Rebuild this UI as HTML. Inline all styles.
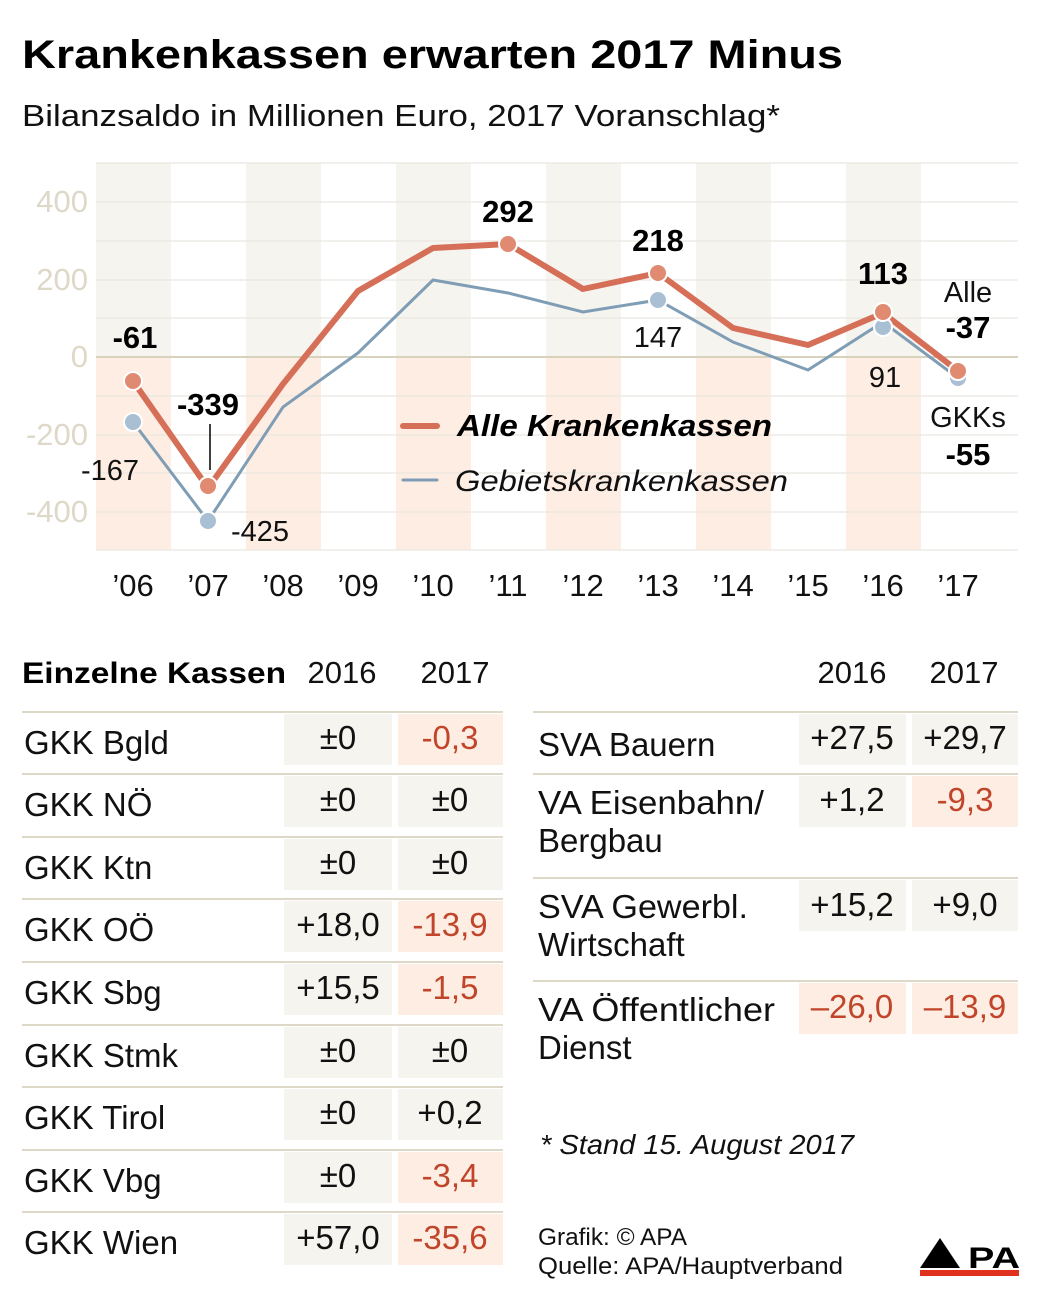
<!DOCTYPE html><html><head><meta charset="utf-8"><style>body{margin:0;background:#fff}svg{display:block}text{font-family:"Liberation Sans",sans-serif}</style></head><body>
<svg width="1041" height="1296" viewBox="0 0 1041 1296">
<text x="22" y="68" font-size="40" font-weight="bold" fill="#000" textLength="821" lengthAdjust="spacingAndGlyphs">Krankenkassen erwarten 2017 Minus</text>
<text x="22" y="126" font-size="31" fill="#111" textLength="758" lengthAdjust="spacingAndGlyphs">Bilanzsaldo in Millionen Euro, 2017 Voranschlag*</text>
<g>
<rect x="96" y="163" width="75" height="194" fill="#f6f4ef"/><rect x="96" y="357" width="75" height="193" fill="#fdede2"/>
<rect x="246" y="163" width="75" height="194" fill="#f6f4ef"/><rect x="246" y="357" width="75" height="193" fill="#fdede2"/>
<rect x="396" y="163" width="75" height="194" fill="#f6f4ef"/><rect x="396" y="357" width="75" height="193" fill="#fdede2"/>
<rect x="546" y="163" width="75" height="194" fill="#f6f4ef"/><rect x="546" y="357" width="75" height="193" fill="#fdede2"/>
<rect x="696" y="163" width="75" height="194" fill="#f6f4ef"/><rect x="696" y="357" width="75" height="193" fill="#fdede2"/>
<rect x="846" y="163" width="75" height="194" fill="#f6f4ef"/><rect x="846" y="357" width="75" height="193" fill="#fdede2"/>
</g>
<g stroke="#ebe8e0" stroke-width="1.2">
<line x1="96" x2="1018" y1="163" y2="163"/><line x1="96" x2="1018" y1="202" y2="202"/><line x1="96" x2="1018" y1="241" y2="241"/><line x1="96" x2="1018" y1="280" y2="280"/><line x1="96" x2="1018" y1="318" y2="318"/><line x1="96" x2="1018" y1="396" y2="396"/><line x1="96" x2="1018" y1="435" y2="435"/><line x1="96" x2="1018" y1="473" y2="473"/><line x1="96" x2="1018" y1="512" y2="512"/><line x1="96" x2="1018" y1="550" y2="550"/>
</g>
<line x1="96" x2="1018" y1="357" y2="357" stroke="#d8d2bd" stroke-width="2"/>
<g font-size="31" fill="#ddd8c8" text-anchor="end">
<text x="88" y="212">400</text><text x="88" y="290">200</text><text x="88" y="367">0</text><text x="88" y="445">-200</text><text x="88" y="522">-400</text></g>
<g font-size="31" fill="#111" text-anchor="middle">
<text x="133" y="596">’06</text><text x="208" y="596">’07</text><text x="283" y="596">’08</text><text x="358" y="596">’09</text><text x="433" y="596">’10</text><text x="508" y="596">’11</text><text x="583" y="596">’12</text><text x="658" y="596">’13</text><text x="733" y="596">’14</text><text x="808" y="596">’15</text><text x="883" y="596">’16</text><text x="958" y="596">’17</text></g>
<polyline fill="none" stroke="#7f9db5" stroke-width="3" points="133,422 208,521 283,407 358,353 433,280 508,293 583,312 658,300 733,342 808,370 883,322 958,378"/>
<polyline fill="none" stroke="#d66f58" stroke-width="6" stroke-linejoin="round" points="133,381 208,488 283,384 358,291 433,248 508,244 583,289 658,273 733,328 808,345 883,313 958,371"/>
<g stroke="#fff" stroke-width="2">
<circle cx="133" cy="422" r="9" fill="#a9bfd3"/><circle cx="208" cy="521" r="9" fill="#a9bfd3"/><circle cx="658" cy="300" r="9" fill="#a9bfd3"/><circle cx="883" cy="327" r="9" fill="#a9bfd3"/><circle cx="958" cy="378" r="9" fill="#a9bfd3"/>
<circle cx="133" cy="381" r="9" fill="#e08a72"/><circle cx="208" cy="486" r="9" fill="#e08a72"/><circle cx="508" cy="244" r="9" fill="#e08a72"/><circle cx="658" cy="273" r="9" fill="#e08a72"/><circle cx="883" cy="312" r="9" fill="#e08a72"/><circle cx="958" cy="371" r="9" fill="#e08a72"/></g>
<line x1="210" y1="424" x2="210" y2="470" stroke="#000" stroke-width="1.5"/>
<g font-size="31" font-weight="bold" fill="#000" text-anchor="middle">
<text x="135" y="348">-61</text><text x="208" y="415">-339</text><text x="508" y="222">292</text><text x="658" y="251">218</text><text x="883" y="284">113</text><text x="968" y="338">-37</text><text x="968" y="465">-55</text></g>
<g font-size="29" fill="#111" text-anchor="middle">
<text x="110" y="480">-167</text><text x="260" y="541">-425</text><text x="658" y="347">147</text><text x="885" y="387">91</text><text x="968" y="302">Alle</text><text x="968" y="427">GKKs</text></g>
<line x1="403" y1="426" x2="437" y2="426" stroke="#d66f58" stroke-width="6" stroke-linecap="round"/>
<line x1="403" y1="480" x2="437" y2="480" stroke="#7f9db5" stroke-width="3" stroke-linecap="round"/>
<text x="457" y="436" font-size="31" font-weight="bold" font-style="italic" fill="#000" textLength="315" lengthAdjust="spacingAndGlyphs">Alle Krankenkassen</text>
<text x="455" y="491" font-size="30" font-style="italic" fill="#111" textLength="333" lengthAdjust="spacingAndGlyphs">Gebietskrankenkassen</text>
<text x="22" y="683" font-size="30" font-weight="bold" fill="#000" textLength="264" lengthAdjust="spacingAndGlyphs">Einzelne Kassen</text>
<g font-size="31" fill="#111" text-anchor="middle"><text x="342" y="683">2016</text><text x="455" y="683">2017</text><text x="852" y="683">2016</text><text x="964" y="683">2017</text></g>
<g stroke="#ddd8c8" stroke-width="2">
<line x1="22" x2="503" y1="712" y2="712"/><line x1="22" x2="503" y1="774" y2="774"/><line x1="22" x2="503" y1="837" y2="837"/><line x1="22" x2="503" y1="899" y2="899"/><line x1="22" x2="503" y1="962" y2="962"/><line x1="22" x2="503" y1="1025" y2="1025"/><line x1="22" x2="503" y1="1087" y2="1087"/><line x1="22" x2="503" y1="1150" y2="1150"/><line x1="22" x2="503" y1="1212" y2="1212"/>
<line x1="533" x2="1018" y1="712" y2="712"/><line x1="533" x2="1018" y1="774" y2="774"/><line x1="533" x2="1018" y1="878" y2="878"/><line x1="533" x2="1018" y1="981" y2="981"/></g>
<g font-size="33" fill="#111">
<rect x="284" y="714" width="108" height="51" fill="#f6f4ef"/><rect x="398" y="714" width="105" height="51" fill="#fdede2"/><text x="24" y="754">GKK Bgld</text><text x="338" y="749" text-anchor="middle">±0</text><text x="450" y="749" text-anchor="middle" fill="#c0452a">-0,3</text>
<rect x="284" y="776" width="108" height="51" fill="#f6f4ef"/><rect x="398" y="776" width="105" height="51" fill="#f6f4ef"/><text x="24" y="816">GKK NÖ</text><text x="338" y="811" text-anchor="middle">±0</text><text x="450" y="811" text-anchor="middle">±0</text>
<rect x="284" y="839" width="108" height="51" fill="#f6f4ef"/><rect x="398" y="839" width="105" height="51" fill="#f6f4ef"/><text x="24" y="879">GKK Ktn</text><text x="338" y="874" text-anchor="middle">±0</text><text x="450" y="874" text-anchor="middle">±0</text>
<rect x="284" y="901" width="108" height="51" fill="#f6f4ef"/><rect x="398" y="901" width="105" height="51" fill="#fdede2"/><text x="24" y="941">GKK OÖ</text><text x="338" y="936" text-anchor="middle">+18,0</text><text x="450" y="936" text-anchor="middle" fill="#c0452a">-13,9</text>
<rect x="284" y="964" width="108" height="51" fill="#f6f4ef"/><rect x="398" y="964" width="105" height="51" fill="#fdede2"/><text x="24" y="1004">GKK Sbg</text><text x="338" y="999" text-anchor="middle">+15,5</text><text x="450" y="999" text-anchor="middle" fill="#c0452a">-1,5</text>
<rect x="284" y="1027" width="108" height="51" fill="#f6f4ef"/><rect x="398" y="1027" width="105" height="51" fill="#f6f4ef"/><text x="24" y="1067">GKK Stmk</text><text x="338" y="1062" text-anchor="middle">±0</text><text x="450" y="1062" text-anchor="middle">±0</text>
<rect x="284" y="1089" width="108" height="51" fill="#f6f4ef"/><rect x="398" y="1089" width="105" height="51" fill="#f6f4ef"/><text x="24" y="1129">GKK Tirol</text><text x="338" y="1124" text-anchor="middle">±0</text><text x="450" y="1124" text-anchor="middle">+0,2</text>
<rect x="284" y="1152" width="108" height="51" fill="#f6f4ef"/><rect x="398" y="1152" width="105" height="51" fill="#fdede2"/><text x="24" y="1192">GKK Vbg</text><text x="338" y="1187" text-anchor="middle">±0</text><text x="450" y="1187" text-anchor="middle" fill="#c0452a">-3,4</text>
<rect x="284" y="1214" width="108" height="51" fill="#f6f4ef"/><rect x="398" y="1214" width="105" height="51" fill="#fdede2"/><text x="24" y="1254">GKK Wien</text><text x="338" y="1249" text-anchor="middle">+57,0</text><text x="450" y="1249" text-anchor="middle" fill="#c0452a">-35,6</text>
<rect x="799" y="714" width="107" height="51" fill="#f6f4ef"/><rect x="912" y="714" width="106" height="51" fill="#f6f4ef"/><text x="538" y="756">SVA Bauern</text><text x="852" y="749" text-anchor="middle">+27,5</text><text x="965" y="749" text-anchor="middle">+29,7</text>
<rect x="799" y="776" width="107" height="51" fill="#f6f4ef"/><rect x="912" y="776" width="106" height="51" fill="#fdede2"/><text x="538" y="814" textLength="226" lengthAdjust="spacingAndGlyphs">VA Eisenbahn/</text><text x="538" y="852">Bergbau</text><text x="852" y="811" text-anchor="middle">+1,2</text><text x="965" y="811" text-anchor="middle" fill="#c0452a">-9,3</text>
<rect x="799" y="880" width="107" height="51" fill="#f6f4ef"/><rect x="912" y="880" width="106" height="51" fill="#f6f4ef"/><text x="538" y="918" textLength="210" lengthAdjust="spacingAndGlyphs">SVA Gewerbl.</text><text x="538" y="956">Wirtschaft</text><text x="852" y="916" text-anchor="middle">+15,2</text><text x="965" y="916" text-anchor="middle">+9,0</text>
<rect x="799" y="983" width="107" height="51" fill="#fdede2"/><rect x="912" y="983" width="106" height="51" fill="#fdede2"/><text x="538" y="1021" textLength="237" lengthAdjust="spacingAndGlyphs">VA Öffentlicher</text><text x="538" y="1059">Dienst</text><text x="852" y="1018" text-anchor="middle" fill="#c0452a">–26,0</text><text x="965" y="1018" text-anchor="middle" fill="#c0452a">–13,9</text>
</g>
<text x="540" y="1154" font-size="28" font-style="italic" fill="#111" textLength="314" lengthAdjust="spacingAndGlyphs">* Stand 15. August 2017</text>
<text x="538" y="1245" font-size="24" fill="#111" textLength="149" lengthAdjust="spacingAndGlyphs">Grafik: © APA</text>
<text x="538" y="1274" font-size="24" fill="#111" textLength="305" lengthAdjust="spacingAndGlyphs">Quelle: APA/Hauptverband</text>
<polygon points="920,1268 940,1238 960,1268" fill="#000"/>
<text x="968" y="1268" font-size="30" font-weight="bold" fill="#000" textLength="52" lengthAdjust="spacingAndGlyphs">PA</text>
<rect x="920" y="1270" width="99" height="6" fill="#e0301e"/>
</svg></body></html>
